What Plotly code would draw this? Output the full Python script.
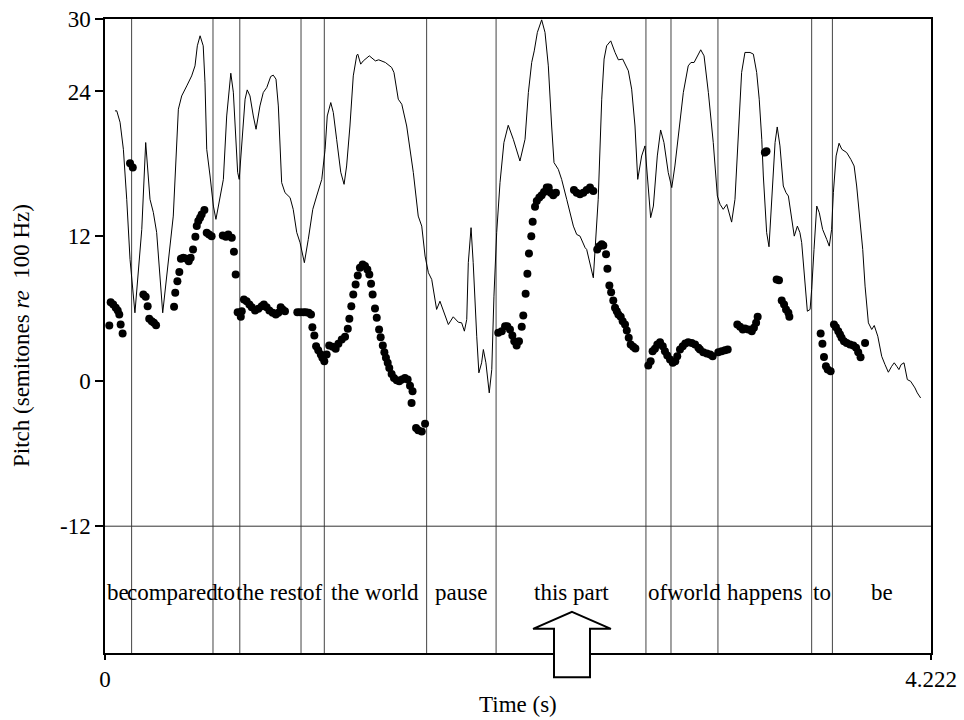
import plotly.graph_objects as go

# ---- data -------------------------------------------------------------
DURATION = 4.222  # seconds

# thin contour (semitones re 100 Hz)
CONTOUR_T = [0.051, 0.060, 0.077, 0.094, 0.111, 0.128, 0.153, 0.188, 0.208, 0.230, 0.247, 0.264,
             0.295, 0.341, 0.349, 0.375, 0.392, 0.418, 0.443, 0.460, 0.472, 0.486, 0.502, 0.511,
             0.520, 0.537, 0.554, 0.567, 0.588, 0.605, 0.622, 0.643, 0.656, 0.673, 0.678, 0.686,
             0.699, 0.716, 0.727, 0.741, 0.758, 0.772, 0.792, 0.809, 0.827, 0.847, 0.860, 0.874,
             0.886, 0.903, 0.920, 0.946, 0.962, 0.980, 0.997, 1.019, 1.039, 1.062, 1.082, 1.108,
             1.125, 1.136, 1.154, 1.167, 1.184, 1.205, 1.222, 1.235, 1.252, 1.269, 1.287, 1.292,
             1.307, 1.320, 1.351, 1.382, 1.399, 1.433, 1.465, 1.477, 1.499, 1.517, 1.542, 1.576,
             1.601, 1.619, 1.636, 1.653, 1.670, 1.695, 1.712, 1.729, 1.755, 1.780, 1.806, 1.823,
             1.837, 1.849, 1.857, 1.871, 1.882, 1.900, 1.911, 1.925, 1.934, 1.947, 1.964, 1.977,
             1.988, 2.002, 2.019, 2.039, 2.061, 2.087, 2.121, 2.147, 2.164, 2.181, 2.194, 2.210,
             2.232, 2.249, 2.266, 2.283, 2.295, 2.317, 2.334, 2.360, 2.394, 2.411, 2.428, 2.454,
             2.462, 2.496, 2.513, 2.521, 2.539, 2.551, 2.564, 2.585, 2.607, 2.624, 2.646, 2.675,
             2.692, 2.709, 2.723, 2.743, 2.760, 2.772, 2.789, 2.803, 2.823, 2.840, 2.857, 2.879,
             2.897, 2.913, 2.935, 2.956, 2.981, 2.995, 3.011, 3.024, 3.045, 3.062, 3.084, 3.109,
             3.130, 3.144, 3.160, 3.178, 3.191, 3.203, 3.220, 3.237, 3.254, 3.271, 3.297, 3.314,
             3.331, 3.344, 3.357, 3.365, 3.382, 3.394, 3.408, 3.425, 3.436, 3.450, 3.467, 3.481,
             3.493, 3.510, 3.523, 3.539, 3.552, 3.561, 3.578, 3.590, 3.604, 3.612, 3.624, 3.638,
             3.651, 3.668, 3.689, 3.702, 3.714, 3.723, 3.737, 3.752, 3.766, 3.791, 3.812, 3.829,
             3.842, 3.859, 3.873, 3.885, 3.902, 3.919, 3.932, 3.950, 3.970, 3.987, 4.004, 4.021,
             4.034, 4.047, 4.058, 4.069, 4.084, 4.101, 4.118, 4.140, 4.152, 4.169]
CONTOUR_V = [22.39, 22.40, 21.45, 19.21, 15.07, 10.09, 5.67, 12.58, 19.77, 15.07, 13.99, 12.33,
             5.67, 12.58, 13.68, 22.53, 23.63, 24.46, 25.29, 26.12, 27.78, 28.61, 27.78, 24.77,
             19.21, 17.00, 14.51, 13.41, 15.34, 16.72, 21.97, 25.51, 23.94, 19.21, 17.31, 16.72,
             19.79, 23.36, 24.13, 23.63, 21.97, 20.87, 22.80, 23.91, 24.33, 25.24, 25.35, 25.02,
             22.80, 16.45, 15.62, 15.21, 14.24, 12.33, 11.48, 9.82, 11.75, 14.24, 15.34, 16.72,
             19.21, 21.97, 23.08, 22.26, 20.04, 17.31, 16.31, 17.83, 21.14, 25.29, 27.01, 27.09,
             26.26, 26.53, 26.95, 26.53, 26.62, 26.40, 25.99, 25.57, 23.36, 22.94, 21.14, 17.28,
             13.68, 12.85, 10.37, 8.99, 8.43, 5.95, 6.63, 5.80, 4.70, 5.34, 4.89, 4.84,
             4.15, 5.12, 9.82, 12.72, 9.82, 3.73, 0.70, 1.53, 2.63, 1.53, -0.96, 0.97,
             7.05, 12.31, 16.45, 19.77, 21.20, 20.04, 18.24, 20.04, 23.91, 26.40, 27.36, 28.89,
             29.93, 28.89, 26.12, 21.14, 18.11, 17.55, 16.72, 15.07, 12.85, 12.16, 12.02, 11.06,
             10.92, 8.57, 12.58, 15.07, 23.36, 26.68, 27.78, 28.19, 27.23, 26.62, 26.68, 25.71,
             24.19, 21.14, 16.72, 18.66, 19.49, 17.28, 13.55, 14.51, 18.66, 20.81, 19.77, 17.28,
             16.04, 17.83, 21.14, 23.91, 26.12, 26.40, 26.40, 26.82, 27.45, 26.95, 23.91, 19.77,
             15.34, 14.65, 14.24, 14.65, 13.96, 13.18, 15.07, 20.60, 25.57, 27.23, 27.23, 27.09,
             25.57, 23.36, 20.04, 17.00, 12.31, 11.14, 15.07, 19.77, 21.06, 19.49, 16.17, 15.62,
             15.34, 13.41, 12.02, 12.85, 12.31, 11.48, 8.43, 5.80, 5.95, 7.60, 10.92, 14.51,
             13.96, 12.58, 11.75, 11.19, 12.58, 15.62, 18.66, 19.71, 19.21, 18.94, 18.38, 17.83,
             16.17, 13.41, 10.92, 7.88, 4.84, 4.29, 4.62, 3.73, 2.07, 1.38, 0.75, 1.24,
             1.53, 1.24, 0.97, 1.38, 1.53, 0.14, 0.00, -0.55, -0.96, -1.38]

# pitch track (semitones re 100 Hz)
PITCH_T = [0.022, 0.029, 0.042, 0.055, 0.065, 0.073, 0.080, 0.090, 0.128, 0.142,
           0.196, 0.208, 0.218, 0.226, 0.239, 0.250, 0.261,
           0.353, 0.359, 0.370, 0.380, 0.388, 0.400, 0.414, 0.428, 0.438, 0.450, 0.462, 0.469,
           0.477, 0.486, 0.494, 0.508, 0.520, 0.532, 0.545,
           0.602, 0.618, 0.630, 0.648, 0.659, 0.668,
           0.678, 0.694, 0.699, 0.710, 0.724, 0.738, 0.750, 0.767, 0.784, 0.801, 0.812, 0.826,
           0.840, 0.857, 0.873, 0.886, 0.898, 0.908, 0.920,
           0.983, 0.997, 1.014, 1.027, 1.041, 1.053, 1.060, 1.070, 1.079, 1.090, 1.103, 1.111,
           1.121, 1.133, 1.146, 1.164, 1.179, 1.193, 1.210, 1.227, 1.241, 1.249, 1.259, 1.269,
           1.281, 1.292, 1.303, 1.317, 1.329, 1.341, 1.351, 1.360, 1.368, 1.380, 1.389, 1.401,
           1.409, 1.420, 1.428, 1.436, 1.445, 1.453, 1.465, 1.477, 1.491, 1.504, 1.518, 1.533,
           1.547, 1.559, 1.572, 1.567, 1.590, 1.601, 1.619, 1.636,
           2.010, 2.028, 2.045, 2.056, 2.070, 2.082, 2.092, 2.104, 2.116, 2.130, 2.138, 2.150,
           2.159, 2.167, 2.179, 2.186, 2.198, 2.207, 2.220, 2.232, 2.244, 2.258, 2.268, 2.278,
           2.291, 2.305,
           2.397, 2.411, 2.428, 2.445, 2.462, 2.479, 2.496,
           2.516, 2.527, 2.539, 2.547, 2.561, 2.568, 2.578, 2.587, 2.598, 2.607, 2.616, 2.624,
           2.636, 2.646, 2.658, 2.667, 2.677, 2.687, 2.700, 2.711,
           2.777, 2.789, 2.799, 2.811, 2.823, 2.837, 2.851, 2.862, 2.874, 2.888, 2.902, 2.915,
           2.925, 2.939, 2.953, 2.966, 2.981, 2.999, 3.016, 3.033, 3.041, 3.058, 3.076, 3.093,
           3.106, 3.135, 3.152, 3.169, 3.183,
           3.232, 3.246, 3.260, 3.271, 3.288, 3.306, 3.317, 3.328, 3.336,
           3.373, 3.381,
           3.433, 3.445, 3.459, 3.471, 3.481, 3.493, 3.498,
           3.658, 3.667, 3.675, 3.685, 3.694, 3.709,
           3.726, 3.736, 3.748, 3.757, 3.765, 3.777, 3.791, 3.808, 3.825, 3.839, 3.850, 3.862,
           3.885]
PITCH_ST = [4.62, 6.55, 6.36, 6.09, 5.86, 5.53, 4.70, 3.96, 18.05, 17.70,
            7.19, 7.00, 6.22, 5.17, 4.98, 4.84, 4.64,
            6.17, 7.33, 8.29, 9.04, 10.15, 10.23, 10.17, 9.95, 10.23, 10.92, 11.97, 12.85,
            13.27, 13.55, 13.82, 14.18, 12.31, 12.16, 12.02,
            12.08, 11.97, 12.16, 11.89, 10.73, 8.85,
            5.72, 5.34, 5.80, 6.77, 6.63, 6.36, 6.14, 5.86, 6.00, 6.22, 6.36, 6.14,
            5.86, 5.67, 5.53, 5.67, 6.14, 5.95, 5.80,
            5.72, 5.72, 5.72, 5.72, 5.67, 5.53, 4.48, 3.79, 2.90, 2.57, 2.21, 1.94,
            1.66, 2.21, 2.96, 2.85, 2.69, 3.10, 3.46, 3.68, 4.35, 5.17, 6.22, 7.19,
            8.02, 8.76, 9.40, 9.68, 9.54, 9.26, 8.85, 8.08, 7.19, 6.03, 5.26, 4.29,
            3.65, 2.96, 2.40, 1.94, 1.53, 1.11, 0.61, 0.28, 0.08, 0.00, 0.14, 0.28,
            0.14, -0.36, -0.83, -1.79, -3.86, -4.05, -4.15, -3.51,
            4.01, 4.15, 4.56, 4.56, 4.29, 3.79, 3.32, 2.96, 3.32, 4.51, 5.45, 7.25,
            8.91, 10.59, 12.02, 13.22, 14.46, 14.93, 15.21, 15.40, 15.67, 16.04, 16.04, 15.62,
            15.40, 15.62,
            15.84, 15.62, 15.48, 15.62, 15.84, 16.04, 15.75,
            10.92, 11.19, 11.34, 11.25, 10.51, 9.32, 7.94, 7.38, 6.69, 6.09, 5.80, 5.53,
            5.34, 4.98, 4.70, 4.20, 3.60, 3.04, 2.85, 2.71,
            1.30, 1.66, 2.49, 2.69, 3.04, 3.23, 2.90, 2.49, 2.13, 1.80, 1.53, 1.66,
            2.07, 2.63, 2.90, 3.13, 3.23, 3.18, 3.04, 2.77, 2.63, 2.40, 2.30, 2.21,
            2.07, 2.40, 2.49, 2.57, 2.63,
            4.70, 4.51, 4.29, 4.37, 4.29, 4.15, 4.43, 4.84, 5.34,
            18.94, 19.05,
            8.43, 8.37, 6.69, 6.36, 5.95, 5.67, 5.34,
            3.96, 3.10, 2.02, 1.24, 0.97, 0.83,
            4.70, 4.48, 4.15, 3.87, 3.60, 3.32, 3.18, 3.04, 2.96, 2.77, 2.40, 1.99,
            3.18]

# word tier
BOUNDARIES = [0.136, 0.552, 0.689, 1.002, 1.121, 1.644, 1.999, 2.765, 2.893, 3.133, 3.612, 3.718]
WORDS = ["be", "compared", "to", "the rest", "of", "the world", "pause",
         "this part", "of", "world", "happens", "to", "be"]

Y_TICKS = [30, 24, 12, 0, -12]
Y_TICK_TEXT = ["30", "24", "12", "0", "-12"]
X_TICKS = [0, DURATION]
X_TICK_TEXT = ["0", "4.222"]
TIER_SPLIT = -12     # pitch panel / word tier divider
TIER_TEXT_Y = -17.5  # vertical position of the word labels
ARROW_T = 2.387      # time marked by the arrow under the tier

Y_MIN, Y_MAX = -22.5, 30
FONT = "Liberation Serif, Times New Roman, serif"
FS = 23

# plot frame in pixels
W, H = 964, 720
ML, MR, MT, MB = 105, 33, 19, 67
PLOT_W, PLOT_H = W - ML - MR, H - MT - MB

fig = go.Figure()

fig.add_trace(go.Scatter(x=CONTOUR_T, y=CONTOUR_V, mode="lines",
                         line=dict(color="black", width=1), hoverinfo="skip"))
fig.add_trace(go.Scatter(x=PITCH_T, y=PITCH_ST, mode="markers",
                         marker=dict(color="black", size=8, line=dict(width=0))))

# interval boundaries
for b in BOUNDARIES:
    fig.add_shape(type="line", xref="x", yref="paper", x0=b, x1=b, y0=0, y1=1,
                  line=dict(color="#444444", width=1), layer="below")
# tier divider
fig.add_shape(type="line", xref="paper", yref="y", x0=0, x1=1, y0=TIER_SPLIT, y1=TIER_SPLIT,
              line=dict(color="#333333", width=1), layer="below")

# word labels centred in their intervals
edges = [0] + BOUNDARIES + [DURATION]
for i, w in enumerate(WORDS):
    fig.add_annotation(x=(edges[i] + edges[i + 1]) / 2, y=TIER_TEXT_Y, xref="x", yref="y",
                       text=w, showarrow=False, font=dict(family=FONT, size=FS, color="black"),
                       xanchor="center", yanchor="middle")

# hollow arrow straddling the time axis
def px(t):
    return t / DURATION

def py(v):
    return (v - Y_MIN) / (Y_MAX - Y_MIN)

head_hw, stem_hw = 0.199, 0.092
tip, head_base, stem_bottom = -19.1, -20.5, -24.5
pts = [(ARROW_T, tip), (ARROW_T + head_hw, head_base), (ARROW_T + stem_hw, head_base),
       (ARROW_T + stem_hw, stem_bottom), (ARROW_T - stem_hw, stem_bottom),
       (ARROW_T - stem_hw, head_base), (ARROW_T - head_hw, head_base)]
path = "M " + " L ".join(f"{px(a):.5f},{py(b):.5f}" for a, b in pts) + " Z"
fig.add_shape(type="path", xref="paper", yref="paper", path=path,
              fillcolor="white", line=dict(color="black", width=2), layer="above")

# axis titles
fig.add_annotation(text="Time (s)", xref="paper", yref="paper", x=0.5, y=-(704 - (H - MB)) / PLOT_H,
                   showarrow=False, xanchor="center", yanchor="middle",
                   font=dict(family=FONT, size=FS, color="black"))
fig.add_annotation(text="Pitch (semitones <i>re</i>  100 Hz)", xref="paper", yref="paper",
                   x=(21 - ML) / PLOT_W, y=0.5, textangle=-90, showarrow=False,
                   xanchor="center", yanchor="middle",
                   font=dict(family=FONT, size=FS, color="black"))

fig.update_layout(
    width=W, height=H,
    margin=dict(l=ML, r=MR, t=MT, b=MB, autoexpand=False),
    paper_bgcolor="white", plot_bgcolor="white",
    showlegend=False,
    font=dict(family=FONT, size=FS, color="black"),
)
fig.update_xaxes(range=[0, DURATION], tickvals=X_TICKS, ticktext=X_TICK_TEXT,
                 ticks="outside", ticklen=5, tickwidth=1.5, tickcolor="black",
                 showline=True, linecolor="black", linewidth=1.5, mirror=True,
                 showgrid=False, zeroline=False, automargin=False)
fig.update_yaxes(range=[Y_MIN, Y_MAX], tickvals=Y_TICKS, ticktext=Y_TICK_TEXT,
                 ticks="outside", ticklen=8, tickwidth=1.5, tickcolor="black",
                 showline=True, linecolor="black", linewidth=1.5, mirror=True,
                 showgrid=False, zeroline=False, automargin=False)

fig.write_html("out.html")
